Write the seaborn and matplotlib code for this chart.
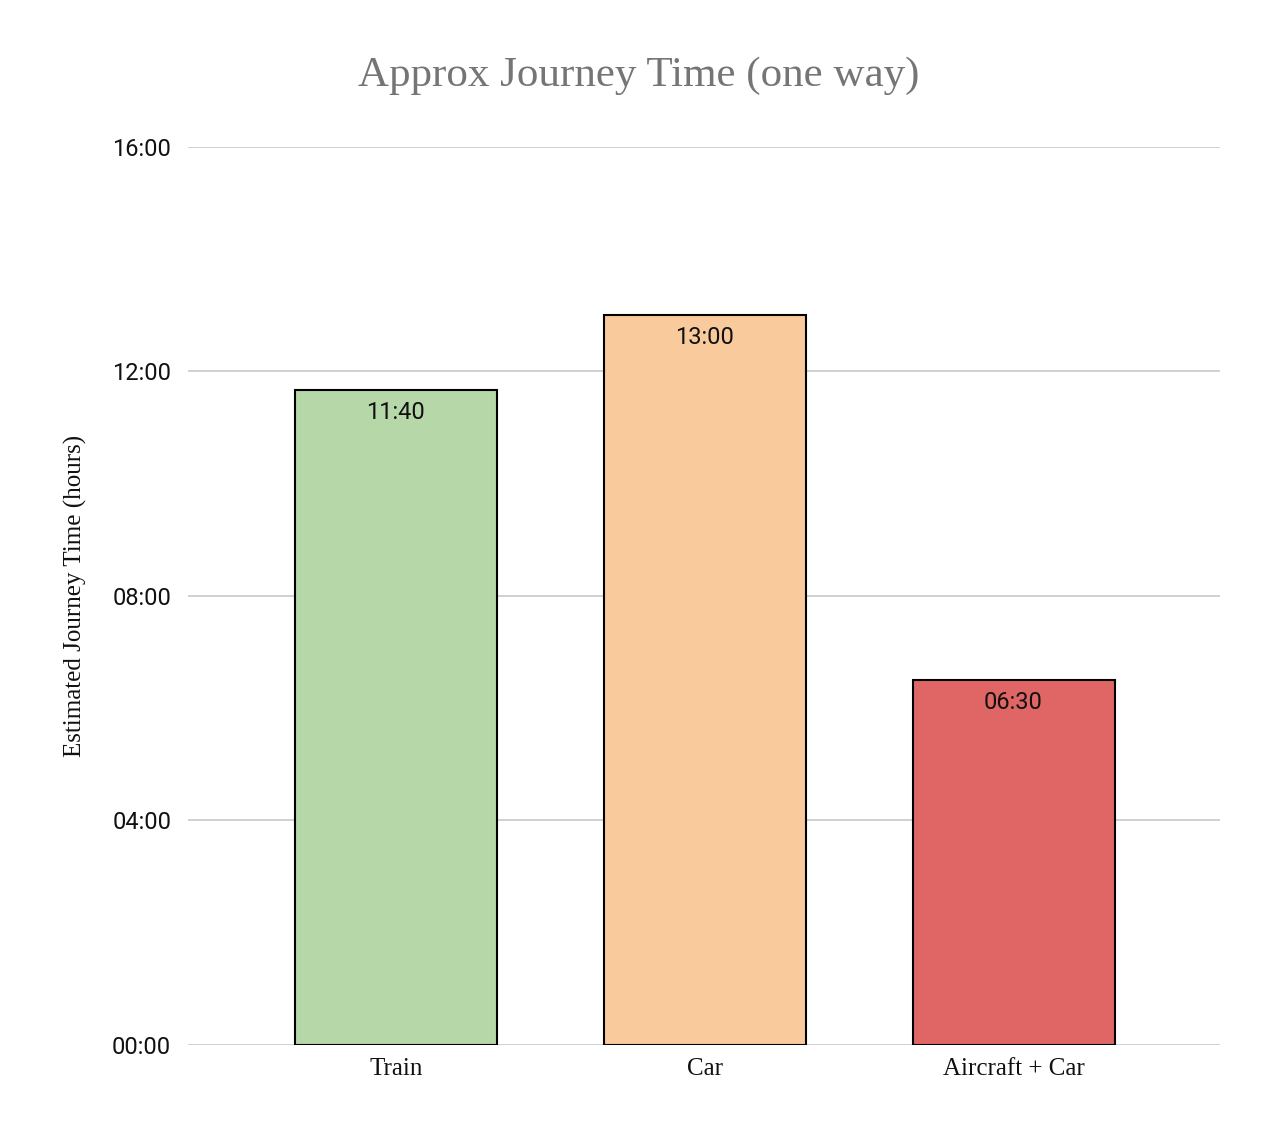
import pandas as pd
import matplotlib.pyplot as plt
import seaborn as sns
from matplotlib.ticker import FuncFormatter

# Journey times in hours
modes = ['Train', 'Car', 'Aircraft + Car']
hours = [11 + 40 / 60, 13.0, 6.5]
labels = ['11:40', '13:00', '06:30']
colors = ['#b6d7a8', '#f9cb9c', '#e06666']

df = pd.DataFrame({'mode': modes, 'hours': hours})

sns.set_theme(style='white')
plt.rcParams['font.family'] = ['Roboto', 'DejaVu Sans']

fig = plt.figure(figsize=(12.78, 11.38), dpi=100)
ax = fig.add_axes([0.147, 0.0817, 0.808, 0.7893])

sns.barplot(data=df, x='mode', y='hours', hue='mode', palette=colors,
            saturation=1, width=0.654, edgecolor='black', linewidth=1.5,
            legend=False, zorder=3, ax=ax)

for bar, lab in zip(ax.patches, labels):
    ax.text(bar.get_x() + bar.get_width() / 2, bar.get_height() - 0.2, lab,
            ha='center', va='top', fontsize=17, color='#111111', zorder=4)

ax.set_ylim(0, 16)
ax.set_yticks([0, 4, 8, 12, 16])
ax.yaxis.set_major_formatter(FuncFormatter(lambda v, p: f'{int(v):02d}:00'))
ax.set_xlim(-0.673, 2.67)
ax.grid(axis='y', color='#c8c8c8', linewidth=1.2, zorder=0)
for s in ax.spines.values():
    s.set_visible(False)
ax.tick_params(axis='y', labelsize=17, pad=12, length=0, labelcolor='#111111')
ax.tick_params(axis='x', length=0, pad=9)
for t in ax.get_xticklabels():
    t.set_fontfamily('Liberation Serif')
    t.set_fontsize(18)
    t.set_color('#111111')

ax.set_xlabel('')
ax.set_ylabel('Estimated Journey Time (hours)', fontfamily='Liberation Serif',
              fontsize=18, color='#111111', labelpad=18)
fig.suptitle('Approx Journey Time (one way)', fontfamily='Liberation Serif',
             fontsize=31, color='#757575', y=0.95)

fig.savefig('out.png', dpi=100)
plt.close(fig)
